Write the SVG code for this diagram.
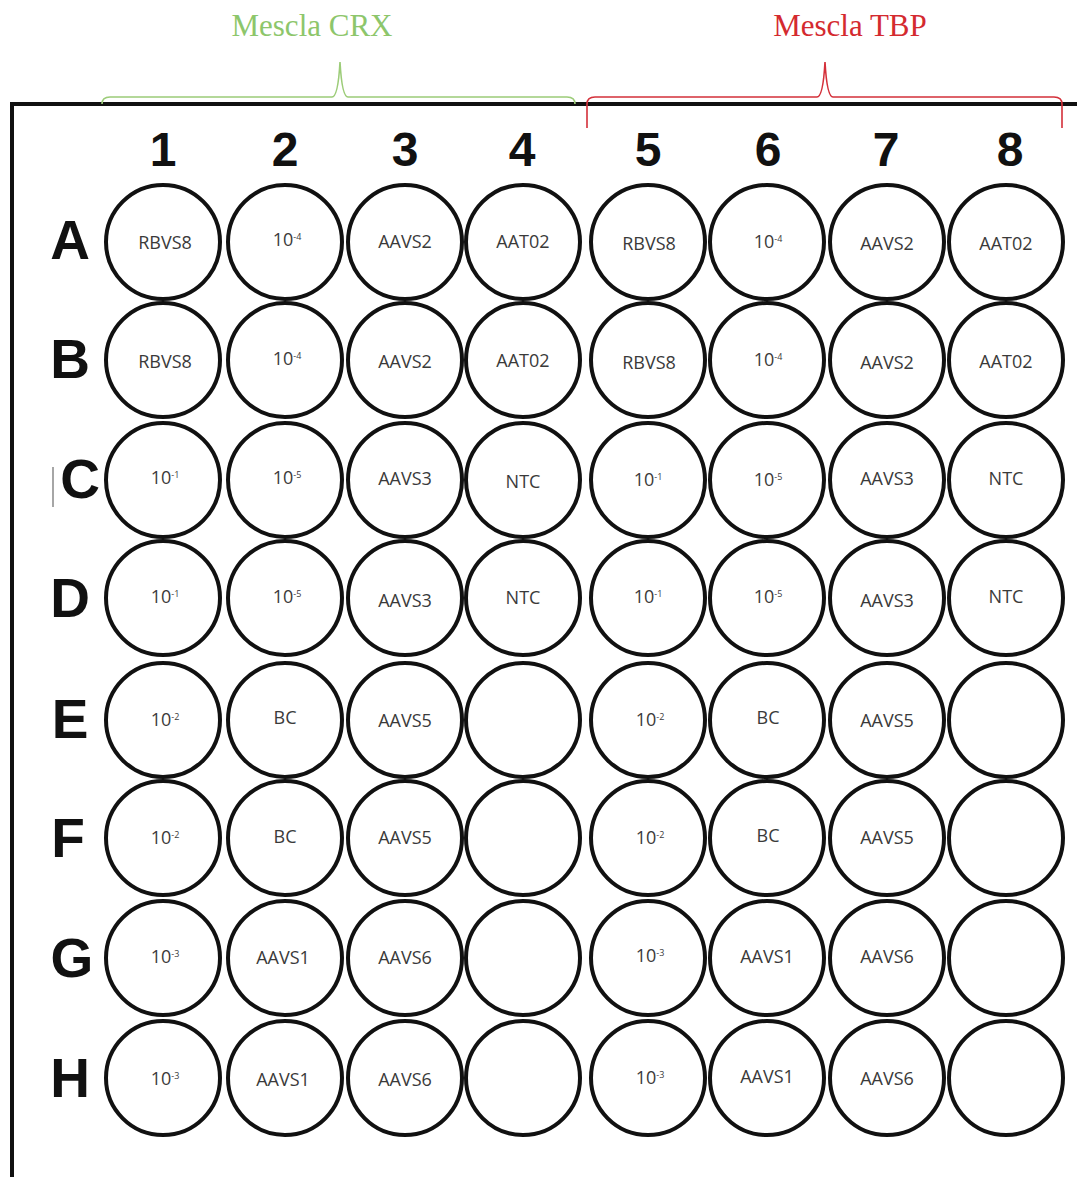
<svg xmlns="http://www.w3.org/2000/svg" width="1077" height="1177" viewBox="0 0 1077 1177">
<style>
.well{fill:#fff;stroke:#111;stroke-width:4}
.wt{font-family:"Open Sans","Liberation Sans",sans-serif;font-size:18px;fill:#3a3a3a;text-anchor:middle}
.sup{font-size:9px}
.col{font-family:"Liberation Sans",Arial,sans-serif;font-weight:bold;font-size:48px;fill:#111;text-anchor:middle}
.row{font-family:"Liberation Sans",Arial,sans-serif;font-weight:bold;font-size:55px;fill:#111;text-anchor:middle}
.ttl{font-family:"Liberation Serif","Times New Roman",serif;font-size:31px;text-anchor:middle}
</style>
<rect width="1077" height="1177" fill="#fff"/>
<g id="frame" fill="none" stroke="#111" stroke-width="4">
<path d="M12,1177 L12,104 L1077,104"/>
</g>
<g id="brackets" fill="none" stroke-width="1.6">
<path d="M102,104 Q102,97 110,97 L332,97 Q338,97 340,62 Q342,97 348,97 L567,97 Q575,97 575,104" stroke="#9ccc78"/>
<path d="M587,128 L587,104 Q587,97 595,97 L817,97 Q823,97 825,62 Q827,97 833,97 L1054,97 Q1062,97 1062,104 L1062,128" stroke="#d4303a"/>
</g>
<text class="ttl" x="312" y="36" fill="#8dc66b">Mescla CRX</text>
<text class="ttl" x="850" y="36" fill="#d42a2f">Mescla TBP</text>
<g id="columns">
<text class="col" x="163" y="166">1</text>
<text class="col" x="285" y="166">2</text>
<text class="col" x="405" y="166">3</text>
<text class="col" x="522" y="166">4</text>
<text class="col" x="648" y="166">5</text>
<text class="col" x="768" y="166">6</text>
<text class="col" x="886" y="166">7</text>
<text class="col" x="1010" y="166">8</text>
</g>
<g id="rows">
<text class="row" x="70" y="259">A</text>
<text class="row" x="70" y="378">B</text>
<text class="row" x="80" y="498">C</text>
<line x1="53" y1="467" x2="53" y2="507" stroke="#888" stroke-width="1.5"/>
<text class="row" x="70" y="617">D</text>
<text class="row" x="70" y="738">E</text>
<text class="row" x="68" y="857">F</text>
<text class="row" x="72" y="977">G</text>
<text class="row" x="70" y="1097">H</text>
</g>
<!-- Row A -->
<g id="A1"><circle class="well" cx="163" cy="242" r="57"/><text class="wt" x="165" y="249">RBVS8</text></g>
<g id="A2"><circle class="well" cx="285" cy="242" r="57"/><text class="wt" x="287" y="246">10<tspan class="sup" dy="-6">-4</tspan></text></g>
<g id="A3"><circle class="well" cx="405" cy="242" r="57"/><text class="wt" x="405" y="248">AAVS2</text></g>
<g id="A4"><circle class="well" cx="523" cy="242" r="57"/><text class="wt" x="523" y="248">AAT02</text></g>
<g id="A5"><circle class="well" cx="648" cy="242" r="57"/><text class="wt" x="649" y="250">RBVS8</text></g>
<g id="A6"><circle class="well" cx="767" cy="242" r="57"/><text class="wt" x="768" y="248">10<tspan class="sup" dy="-6">-4</tspan></text></g>
<g id="A7"><circle class="well" cx="887" cy="242" r="57"/><text class="wt" x="887" y="250">AAVS2</text></g>
<g id="A8"><circle class="well" cx="1006" cy="242" r="57"/><text class="wt" x="1006" y="250">AAT02</text></g>
<!-- Row B -->
<g id="B1"><circle class="well" cx="163" cy="360" r="57"/><text class="wt" x="165" y="368">RBVS8</text></g>
<g id="B2"><circle class="well" cx="285" cy="360" r="57"/><text class="wt" x="287" y="365">10<tspan class="sup" dy="-6">-4</tspan></text></g>
<g id="B3"><circle class="well" cx="405" cy="360" r="57"/><text class="wt" x="405" y="368">AAVS2</text></g>
<g id="B4"><circle class="well" cx="523" cy="360" r="57"/><text class="wt" x="523" y="367">AAT02</text></g>
<g id="B5"><circle class="well" cx="648" cy="360" r="57"/><text class="wt" x="649" y="369">RBVS8</text></g>
<g id="B6"><circle class="well" cx="767" cy="360" r="57"/><text class="wt" x="768" y="366">10<tspan class="sup" dy="-6">-4</tspan></text></g>
<g id="B7"><circle class="well" cx="887" cy="360" r="57"/><text class="wt" x="887" y="369">AAVS2</text></g>
<g id="B8"><circle class="well" cx="1006" cy="360" r="57"/><text class="wt" x="1006" y="368">AAT02</text></g>
<!-- Row C -->
<g id="C1"><circle class="well" cx="163" cy="480" r="57"/><text class="wt" x="165" y="484">10<tspan class="sup" dy="-6">-1</tspan></text></g>
<g id="C2"><circle class="well" cx="285" cy="480" r="57"/><text class="wt" x="287" y="484">10<tspan class="sup" dy="-6">-5</tspan></text></g>
<g id="C3"><circle class="well" cx="405" cy="480" r="57"/><text class="wt" x="405" y="485">AAVS3</text></g>
<g id="C4"><circle class="well" cx="523" cy="480" r="57"/><text class="wt" x="523" y="488">NTC</text></g>
<g id="C5"><circle class="well" cx="648" cy="480" r="57"/><text class="wt" x="648" y="486">10<tspan class="sup" dy="-6">-1</tspan></text></g>
<g id="C6"><circle class="well" cx="767" cy="480" r="57"/><text class="wt" x="768" y="486">10<tspan class="sup" dy="-6">-5</tspan></text></g>
<g id="C7"><circle class="well" cx="887" cy="480" r="57"/><text class="wt" x="887" y="485">AAVS3</text></g>
<g id="C8"><circle class="well" cx="1006" cy="480" r="57"/><text class="wt" x="1006" y="485">NTC</text></g>
<!-- Row D -->
<g id="D1"><circle class="well" cx="163" cy="598" r="57"/><text class="wt" x="165" y="603">10<tspan class="sup" dy="-6">-1</tspan></text></g>
<g id="D2"><circle class="well" cx="285" cy="598" r="57"/><text class="wt" x="287" y="603">10<tspan class="sup" dy="-6">-5</tspan></text></g>
<g id="D3"><circle class="well" cx="405" cy="598" r="57"/><text class="wt" x="405" y="607">AAVS3</text></g>
<g id="D4"><circle class="well" cx="523" cy="598" r="57"/><text class="wt" x="523" y="604">NTC</text></g>
<g id="D5"><circle class="well" cx="648" cy="598" r="57"/><text class="wt" x="648" y="603">10<tspan class="sup" dy="-6">-1</tspan></text></g>
<g id="D6"><circle class="well" cx="767" cy="598" r="57"/><text class="wt" x="768" y="603">10<tspan class="sup" dy="-6">-5</tspan></text></g>
<g id="D7"><circle class="well" cx="887" cy="598" r="57"/><text class="wt" x="887" y="607">AAVS3</text></g>
<g id="D8"><circle class="well" cx="1006" cy="598" r="57"/><text class="wt" x="1006" y="603">NTC</text></g>
<!-- Row E -->
<g id="E1"><circle class="well" cx="163" cy="720" r="57"/><text class="wt" x="165" y="726">10<tspan class="sup" dy="-6">-2</tspan></text></g>
<g id="E2"><circle class="well" cx="285" cy="720" r="57"/><text class="wt" x="285" y="724">BC</text></g>
<g id="E3"><circle class="well" cx="405" cy="720" r="57"/><text class="wt" x="405" y="727">AAVS5</text></g>
<g id="E4"><circle class="well" cx="523" cy="720" r="57"/></g>
<g id="E5"><circle class="well" cx="648" cy="720" r="57"/><text class="wt" x="650" y="726">10<tspan class="sup" dy="-6">-2</tspan></text></g>
<g id="E6"><circle class="well" cx="767" cy="720" r="57"/><text class="wt" x="768" y="724">BC</text></g>
<g id="E7"><circle class="well" cx="887" cy="720" r="57"/><text class="wt" x="887" y="727">AAVS5</text></g>
<g id="E8"><circle class="well" cx="1006" cy="720" r="57"/></g>
<!-- Row F -->
<g id="F1"><circle class="well" cx="163" cy="838" r="57"/><text class="wt" x="165" y="844">10<tspan class="sup" dy="-6">-2</tspan></text></g>
<g id="F2"><circle class="well" cx="285" cy="838" r="57"/><text class="wt" x="285" y="843">BC</text></g>
<g id="F3"><circle class="well" cx="405" cy="838" r="57"/><text class="wt" x="405" y="844">AAVS5</text></g>
<g id="F4"><circle class="well" cx="523" cy="838" r="57"/></g>
<g id="F5"><circle class="well" cx="648" cy="838" r="57"/><text class="wt" x="650" y="844">10<tspan class="sup" dy="-6">-2</tspan></text></g>
<g id="F6"><circle class="well" cx="767" cy="838" r="57"/><text class="wt" x="768" y="842">BC</text></g>
<g id="F7"><circle class="well" cx="887" cy="838" r="57"/><text class="wt" x="887" y="844">AAVS5</text></g>
<g id="F8"><circle class="well" cx="1006" cy="838" r="57"/></g>
<!-- Row G -->
<g id="G1"><circle class="well" cx="163" cy="958" r="57"/><text class="wt" x="165" y="963">10<tspan class="sup" dy="-6">-3</tspan></text></g>
<g id="G2"><circle class="well" cx="285" cy="958" r="57"/><text class="wt" x="283" y="964">AAVS1</text></g>
<g id="G3"><circle class="well" cx="405" cy="958" r="57"/><text class="wt" x="405" y="964">AAVS6</text></g>
<g id="G4"><circle class="well" cx="523" cy="958" r="57"/></g>
<g id="G5"><circle class="well" cx="648" cy="958" r="57"/><text class="wt" x="650" y="962">10<tspan class="sup" dy="-6">-3</tspan></text></g>
<g id="G6"><circle class="well" cx="767" cy="958" r="57"/><text class="wt" x="767" y="963">AAVS1</text></g>
<g id="G7"><circle class="well" cx="887" cy="958" r="57"/><text class="wt" x="887" y="963">AAVS6</text></g>
<g id="G8"><circle class="well" cx="1006" cy="958" r="57"/></g>
<!-- Row H -->
<g id="H1"><circle class="well" cx="163" cy="1078" r="57"/><text class="wt" x="165" y="1085">10<tspan class="sup" dy="-6">-3</tspan></text></g>
<g id="H2"><circle class="well" cx="285" cy="1078" r="57"/><text class="wt" x="283" y="1086">AAVS1</text></g>
<g id="H3"><circle class="well" cx="405" cy="1078" r="57"/><text class="wt" x="405" y="1086">AAVS6</text></g>
<g id="H4"><circle class="well" cx="523" cy="1078" r="57"/></g>
<g id="H5"><circle class="well" cx="648" cy="1078" r="57"/><text class="wt" x="650" y="1084">10<tspan class="sup" dy="-6">-3</tspan></text></g>
<g id="H6"><circle class="well" cx="767" cy="1078" r="57"/><text class="wt" x="767" y="1083">AAVS1</text></g>
<g id="H7"><circle class="well" cx="887" cy="1078" r="57"/><text class="wt" x="887" y="1085">AAVS6</text></g>
<g id="H8"><circle class="well" cx="1006" cy="1078" r="57"/></g>
</svg>
